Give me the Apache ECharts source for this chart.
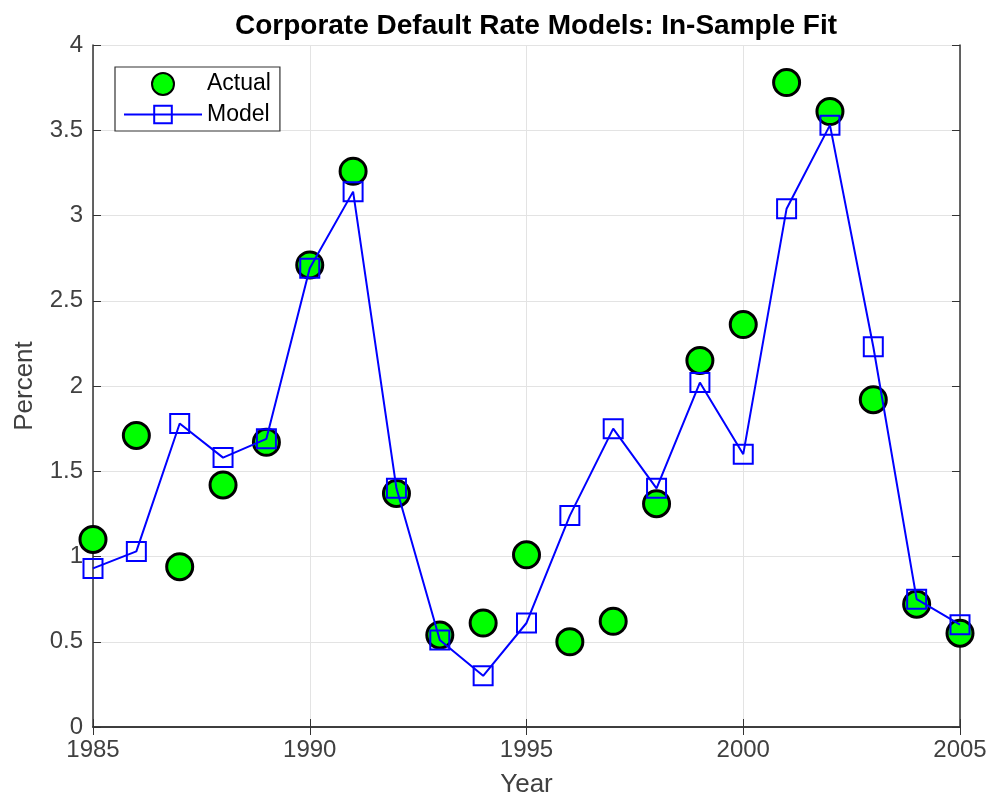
<!DOCTYPE html>
<html>
<head>
<meta charset="utf-8">
<script src="https://cdn.jsdelivr.net/npm/echarts@6/dist/echarts.min.js"></script>
<style>
  html, body { margin: 0; padding: 0; background: #fff; }
  #chart { width: 992px; height: 803px; }
</style>
</head>
<body>
<div id="chart"></div>
<script>
// Annual corporate default rates (percent) and the model's in-sample fit
const years = [1985, 1986, 1987, 1988, 1989, 1990, 1991, 1992, 1993, 1994, 1995,
               1996, 1997, 1998, 1999, 2000, 2001, 2002, 2003, 2004, 2005];
const actual = [1.10, 1.71, 0.94, 1.42, 1.67, 2.71, 3.26, 1.37, 0.54, 0.61, 1.01,
                0.50, 0.62, 1.31, 2.15, 2.36, 3.78, 3.61, 1.92, 0.72, 0.55];
const model = [0.93, 1.03, 1.78, 1.58, 1.69, 2.69, 3.14, 1.40, 0.51, 0.30, 0.61,
               1.24, 1.75, 1.40, 2.02, 1.60, 3.04, 3.53, 2.23, 0.75, 0.60];
const xTicks = [1985, 1990, 1995, 2000, 2005];
const yTicks = [0, 0.5, 1, 1.5, 2, 2.5, 3, 3.5, 4];

const axisColor = '#333333';
const labelColor = '#404040';
const fontFamily = '"Liberation Sans", Arial, Helvetica, sans-serif';

const chart = echarts.init(document.getElementById('chart'));

const pair = (xs, ys) => xs.map((x, i) => [x, ys[i]]);

// top and right axes only close the box and repeat the inward ticks
const boxAxis = {
  axisLine: { show: true, lineStyle: { color: axisColor, width: 1.5 } },
  axisTick: { show: true, inside: true, length: 8, lineStyle: { color: axisColor } },
  axisLabel: { show: false },
  splitLine: { show: false }
};

chart.setOption({
  animation: false,
  backgroundColor: '#ffffff',
  title: {
    text: 'Corporate Default Rate Models: In-Sample Fit',
    left: 531, top: 7, textAlign: 'center',
    textStyle: { fontFamily, fontSize: 28, fontWeight: 'bold', color: '#000' }
  },
  grid: { left: 93, right: 32, top: 45, bottom: 73 },
  legend: {
    orient: 'vertical',
    left: 115, top: 67,
    padding: [5, 9, 5, 8],
    itemWidth: 78, itemHeight: 22, itemGap: 7,
    borderColor: axisColor, borderWidth: 1.2,
    backgroundColor: '#fff',
    textStyle: { fontFamily, fontSize: 23, color: '#000' },
    data: ['Actual', 'Model']
  },
  xAxis: [{
    type: 'value', min: xTicks[0], max: xTicks[xTicks.length - 1], interval: 5,
    name: 'Year', nameLocation: 'middle', nameGap: 45,
    nameTextStyle: { fontFamily, fontSize: 26, color: labelColor },
    axisLine: { show: true, lineStyle: { color: axisColor, width: 1.5 } },
    axisTick: { show: true, inside: true, length: 8, lineStyle: { color: axisColor } },
    axisLabel: { fontFamily, fontSize: 24, color: labelColor, margin: 11,
                 formatter: v => String(v) },
    splitLine: { show: true, lineStyle: { color: '#e3e3e3', width: 1 } }
  }, Object.assign({
    type: 'value', position: 'top', min: xTicks[0], max: xTicks[xTicks.length - 1], interval: 5
  }, boxAxis)],
  yAxis: [{
    type: 'value', min: yTicks[0], max: yTicks[yTicks.length - 1], interval: 0.5,
    name: 'Percent', nameLocation: 'middle', nameGap: 55,
    nameTextStyle: { fontFamily, fontSize: 26, color: labelColor },
    axisLine: { show: true, lineStyle: { color: axisColor, width: 1.5 } },
    axisTick: { show: true, inside: true, length: 8, lineStyle: { color: axisColor } },
    axisLabel: { fontFamily, fontSize: 24, color: labelColor, margin: 10,
                 formatter: v => String(v) },
    splitLine: { show: true, lineStyle: { color: '#e3e3e3', width: 1 } }
  }, Object.assign({
    type: 'value', position: 'right', min: yTicks[0], max: yTicks[yTicks.length - 1], interval: 0.5
  }, boxAxis)],
  series: [
    {
      name: 'Actual',
      type: 'scatter',
      data: pair(years, actual),
      symbol: 'circle',
      symbolSize: 26,
      itemStyle: { color: '#00ff00', borderColor: '#000', borderWidth: 3, opacity: 1 },
      z: 2
    },
    {
      name: 'Model',
      type: 'line',
      data: pair(years, model),
      symbol: 'rect',
      symbolSize: 19,
      showAllSymbol: true,
      lineStyle: { color: '#0000ff', width: 2 },
      itemStyle: { color: 'rgba(0,0,0,0)', borderColor: '#0000ff', borderWidth: 2 },
      z: 3
    }
  ]
});
</script>
</body>
</html>
